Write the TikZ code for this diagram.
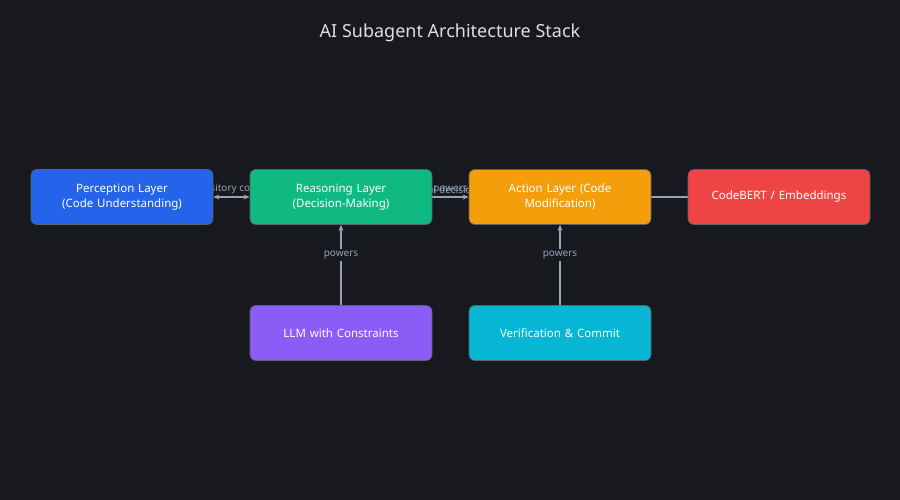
\documentclass[tikz,border=0pt]{standalone}
\usepackage{fontspec}
\setmainfont{Noto Sans}
\usetikzlibrary{arrows.meta}
\pgfdeclarelayer{bgfill}
\pgfdeclarelayer{bg}
\pgfsetlayers{bgfill,bg,main}
\definecolor{bgc}{HTML}{18191E}
\definecolor{ln}{HTML}{94A3B8}
\tikzset{x=1pt,y=-1pt,
 box/.style={draw=ln!60!black,line width=0.6pt,rounded corners=6pt,minimum width=182pt,minimum height=55pt,text=white,font=\fontsize{11.5}{15}\selectfont,align=center,text width=150pt},
 conn/.style={draw=ln,line width=1.2pt,-{Stealth[length=6pt,width=5pt]}},
 lbl/.style={text=ln,font=\fontsize{10}{12}\selectfont}}
\begin{document}
\begin{tikzpicture}
\begin{pgfonlayer}{bgfill}
\fill[bgc] (0,0) rectangle (900,500);
\end{pgfonlayer}
\useasboundingbox (0,0) rectangle (900,500);
\node[text={rgb,255:red,220;green,222;blue,228},font=\fontsize{18}{22}\selectfont] (title) at (450,33) {AI Subagent Architecture Stack};
\node[box,fill={rgb,255:red,37;green,99;blue,235}] (per) at (122,197) {Perception Layer (Code Understanding)};
\node[box,fill={rgb,255:red,16;green,185;blue,129}] (rea) at (341,197) {Reasoning Layer (Decision-Making)};
\node[box,fill={rgb,255:red,245;green,158;blue,11}] (act) at (560,197) {Action Layer (Code Modification)};
\node[box,fill={rgb,255:red,239;green,68;blue,68}] (cb) at (779,197) {CodeBERT / Embeddings};
\node[box,fill={rgb,255:red,139;green,92;blue,246}] (llm) at (341,333) {LLM with Constraints};
\node[box,fill={rgb,255:red,6;green,182;blue,212}] (ver) at (560,333) {Verification \& Commit};
\begin{pgfonlayer}{bg}
\draw[conn,{Stealth[length=6pt,width=5pt]}-{Stealth[length=6pt,width=5pt]}] (per) -- node[lbl,above=-1pt]{repository context} (rea);
\draw[conn] (rea) -- node[lbl,above=-1pt]{tool decisions} node[lbl,above=-1pt]{powers} (act);
\draw[draw=ln,line width=1.2pt] (cb) -- (act);
\end{pgfonlayer}
\draw[conn] (llm) -- node[lbl,fill=bgc,inner sep=2pt,pos=0.62]{powers} (rea);
\draw[conn] (ver) -- node[lbl,fill=bgc,inner sep=2pt,pos=0.62]{powers} (act);
\end{tikzpicture}
\end{document}
